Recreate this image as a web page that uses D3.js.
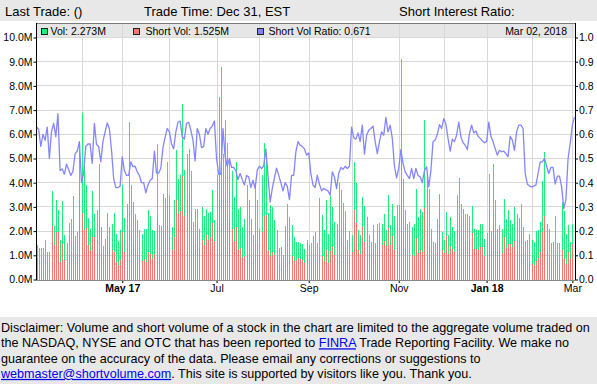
<!DOCTYPE html>
<html><head><meta charset="utf-8">
<script src="https://cdn.jsdelivr.net/npm/d3@7"></script>
<style>
body{margin:0;width:597px;height:384px;overflow:hidden;background:#fff;}
svg{position:absolute;left:0;top:0;font-family:"Liberation Sans",Arial,sans-serif;}
</style></head>
<body>
<svg id="c" width="597" height="384"></svg>
<script>
// ---- data ----
const volM = [
1.42,1.32,1.32,1.32,1.63,1.15,1.15,3.65,2.2,3.3,
2.87,1.63,3.24,1.83,1.52,2.32,2.5,3.44,1.8,1.95,
5.7,6.9,4.68,3.9,2.56,2.1,3.65,2.7,2.87,4.77,
2.15,1.39,1.69,2.73,2.18,2.29,2.73,1.9,1.58,2.04,
3.9,2.55,3.14,6.5,3.9,3.2,2.69,2.45,2.04,1.9,
2.07,2.07,2.87,2.62,2.04,2.01,5.6,2.25,2.2,3.55,
3.35,4.86,3.49,2.18,3.28,5.37,4.17,4.31,7.27,4.52,
5.17,5.41,4.48,2.38,2.93,2.9,2.1,3.0,2.62,2.93,
2.73,2.8,3.69,2.45,4.3,7.55,8.79,5.2,6.58,5.62,
4.97,4.5,3.4,4.85,2.93,3.0,2.18,2.52,3.9,3.28,
2.52,1.83,3.9,3.28,2.1,4.3,5.62,4.9,2.73,3.08,
3.0,2.45,2.04,1.32,1.35,1.0,2.21,3.14,2.6,2.25,
1.74,1.56,1.53,1.52,1.46,1.24,1.63,1.42,1.52,1.79,
1.97,1.52,3.37,2.66,2.04,3.28,1.9,3.44,3.0,2.38,
2.29,4.0,3.69,3.17,2.84,1.63,2.01,1.83,4.86,4.0,
2.04,1.83,3.39,3.03,2.59,1.83,1.56,2.25,1.52,2.29,
2.34,2.31,2.7,2.04,3.49,2.25,3.11,2.62,3.07,3.07,
9.1,4.17,2.87,2.29,2.38,2.18,2.31,3.72,2.59,2.9,
2.8,6.61,4.24,3.76,2.1,1.56,1.52,2.48,3.55,1.97,
1.63,2.78,1.83,2.59,2.18,2.01,3.49,4.21,3.11,2.93,
2.7,2.7,2.62,3.03,2.07,2.04,2.04,2.31,2.31,1.69,
1.93,4.38,2.01,4.77,3.28,2.1,2.25,2.1,3.31,2.52,
2.89,2.45,2.31,3.0,2.7,2.56,3.11,2.18,1.6,1.63,
1.9,1.65,1.56,2.01,2.04,2.38,4.08,5.28,2.31,2.07,
1.52,1.56,2.62,1.49,1.52,3.21,2.84,1.9,2.25,1.54,
2.31,2.273
];
const shortRatio = [
0.63,0.62,0.55,0.60,0.575,0.63,0.50,0.61,0.645,0.59,
0.685,0.45,0.457,0.435,0.477,0.455,0.43,0.447,0.52,0.53,
0.57,0.40,0.44,0.55,0.56,0.56,0.48,0.645,0.558,0.55,
0.486,0.57,0.61,0.647,0.624,0.534,0.417,0.38,0.38,0.385,
0.507,0.45,0.43,0.43,0.486,0.466,0.468,0.445,0.43,0.40,
0.40,0.358,0.39,0.41,0.417,0.53,0.44,0.44,0.46,0.545,
0.587,0.624,0.61,0.56,0.54,0.61,0.65,0.655,0.59,0.58,
0.645,0.65,0.617,0.576,0.49,0.624,0.60,0.545,0.55,0.624,
0.60,0.624,0.634,0.655,0.50,0.435,0.435,0.624,0.51,0.468,
0.50,0.463,0.463,0.45,0.413,0.438,0.413,0.39,0.43,0.424,
0.38,0.41,0.376,0.452,0.468,0.458,0.47,0.54,0.43,0.32,
0.376,0.42,0.46,0.43,0.40,0.366,0.40,0.385,0.33,0.43,
0.43,0.527,0.57,0.555,0.55,0.54,0.514,0.523,0.438,0.39,
0.38,0.43,0.394,0.366,0.376,0.37,0.366,0.348,0.445,0.424,
0.376,0.438,0.463,0.455,0.468,0.459,0.468,0.63,0.587,0.58,
0.606,0.57,0.638,0.518,0.596,0.617,0.624,0.634,0.57,0.52,
0.57,0.61,0.596,0.67,0.61,0.638,0.583,0.468,0.42,0.459,
0.537,0.48,0.445,0.43,0.417,0.459,0.417,0.459,0.43,0.424,
0.40,0.45,0.466,0.383,0.45,0.57,0.576,0.60,0.64,0.624,
0.665,0.642,0.583,0.53,0.58,0.57,0.596,0.65,0.59,0.565,
0.555,0.537,0.603,0.638,0.606,0.614,0.592,0.583,0.573,0.565,
0.57,0.65,0.592,0.57,0.54,0.514,0.534,0.528,0.53,0.52,
0.507,0.592,0.576,0.534,0.61,0.638,0.638,0.624,0.438,0.394,
0.386,0.383,0.386,0.39,0.438,0.486,0.486,0.50,0.468,0.438,
0.463,0.463,0.394,0.427,0.427,0.383,0.293,0.33,0.50,0.562,
0.638,0.671
];
const firstDay = "2017-03-03", lastDay = "2018-03-02";
const holidays = ["2017-04-14","2017-05-29","2017-07-04","2017-09-04","2017-11-23","2017-12-25","2018-01-01","2018-01-15","2018-02-19"];
const gridMonths = ["2017-04","2017-05","2017-06","2017-07","2017-08","2017-09","2017-10","2017-11","2017-12","2018-01","2018-02","2018-03"];
const labelMonths = ["2017-05","2017-07","2017-09","2017-11","2018-01","2018-03"];
const monthLabels = ["May 17","Jul","Sep","Nov","Jan 18","Mar"];
const boldLabels = ["May 17","Jan 18"];
const volTicks = [0,1,2,3,4,5,6,7,8,9,10];
const ratioTicks = [0,0.1,0.2,0.3,0.4,0.5,0.6,0.7,0.8,0.9,1.0];
const headerTexts = ["Last Trade: ()","Trade Time: Dec 31, EST","Short Interest Ratio:"];

// ---- trading calendar ----
const fmt = d3.timeFormat("%Y-%m-%d"), fmtM = d3.timeFormat("%Y-%m");
const parse = d3.timeParse("%Y-%m-%d");
const dates = d3.timeDays(parse(firstDay), d3.timeDay.offset(parse(lastDay),1))
  .filter(d => d.getDay()>0 && d.getDay()<6 && !holidays.includes(fmt(d)));
const n = volM.length;
const shortM = volM.map((v,i)=>v*shortRatio[i]);
const firstIdx = m => dates.findIndex(d => fmtM(d)===m);

// ---- layout ----
const L=36, R=574.5, T=23, B=279.5, LEG=37.5;
const svg = d3.select("#c");
const x = d3.scaleLinear().domain([0,n-1]).range([L+0.5,R]);
const y = d3.scaleLinear().domain([0,10]).range([B,LEG]);
const yr = d3.scaleLinear().domain([0,1]).range([B,LEG]);

// header
svg.append("rect").attr("x",0).attr("y",0).attr("width",597).attr("height",21).attr("fill","#e8e8e8");
const hx=[5,144,399];
headerTexts.forEach((t,i)=>svg.append("text").attr("x",hx[i]).attr("y",15.5).attr("font-size",13).attr("fill","#000").text(t));

// legend band
svg.append("rect").attr("x",L).attr("y",T).attr("width",R-L).attr("height",LEG-T).attr("fill","#e6e6e6");

// grid
const g = svg.append("g").attr("shape-rendering","crispEdges");
g.selectAll("line.h").data(volTicks.slice(1)).join("line")
  .attr("x1",L).attr("x2",R).attr("y1",d=>y(d)).attr("y2",d=>y(d)).attr("stroke","#d8d8d8");
g.selectAll("line.v").data(gridMonths.map(firstIdx)).join("line")
  .attr("x1",d=>Math.round(x(d))+0.5).attr("x2",d=>Math.round(x(d))+0.5).attr("y1",T).attr("y2",B).attr("stroke","#d8d8d8");

// bars
const bars = svg.append("g").attr("shape-rendering","crispEdges");
bars.selectAll("rect.v").data(volM).join("rect")
  .attr("x",(d,i)=>Math.round(x(i))-0.5).attr("width",1)
  .attr("y",d=>y(d)).attr("height",d=>B-y(d)).attr("fill","#18f27a");
bars.selectAll("rect.s").data(shortM).join("rect")
  .attr("x",(d,i)=>Math.round(x(i))-0.5).attr("width",1)
  .attr("y",d=>y(d)).attr("height",d=>B-y(d)).attr("fill","#ff7272");

// ratio line
svg.append("path").datum(shortRatio)
  .attr("d",d3.line().x((d,i)=>x(i)).y(d=>yr(d)))
  .attr("fill","none").attr("stroke","#8585ff").attr("stroke-width",1.3).attr("stroke-linejoin","round");

// top border
svg.append("line").attr("x1",L).attr("x2",R+0.5).attr("y1",T+0.5).attr("y2",T+0.5).attr("stroke","#7a7a7a").attr("shape-rendering","crispEdges");

// legend
const last=n-1;
const legend=[
 {c:"#18f27a",t:"Vol: "+volM[last].toFixed(3)+"M",sx:41,tx:50.5},
 {c:"#ff7272",t:"Short Vol: "+shortM[last].toFixed(3)+"M",sx:133.5,tx:145.5},
 {c:"#8080ff",t:"Short Vol Ratio: "+shortRatio[last].toFixed(3),sx:257.5,tx:268.5}
];
legend.forEach(l=>{
  svg.append("rect").attr("x",l.sx).attr("y",28.5).attr("width",6).attr("height",6).attr("fill",l.c).attr("stroke","#222").attr("stroke-width",1).attr("shape-rendering","crispEdges");
  svg.append("text").attr("x",l.tx).attr("y",35.3).attr("font-size",10.5).attr("fill","#000").text(l.t);
});
svg.append("text").attr("x",567).attr("y",35.3).attr("text-anchor","end").attr("font-size",10.5).text(d3.timeFormat("%b %d, %Y")(dates[last]||parse(lastDay)));

// axes
const axL = svg.append("g").attr("transform",`translate(${L+0.5},0)`)
  .call(d3.axisLeft(y).tickValues(volTicks).tickFormat(d=>d.toFixed(1)+"M").tickSize(3).tickPadding(1).tickSizeOuter(0));
const axR = svg.append("g").attr("transform",`translate(${R+0.5},0)`)
  .call(d3.axisRight(yr).tickValues(ratioTicks).tickFormat(d3.format(".1f")).tickSize(3).tickPadding(1).tickSizeOuter(0));
[axL,axR].forEach(a=>{
  a.select(".domain").remove();
  a.selectAll("text").attr("font-size",10.5).attr("font-family","Liberation Sans, Arial, sans-serif").attr("fill","#000");
  a.selectAll("line").attr("stroke","#000");
});
svg.append("line").attr("x1",L+0.5).attr("x2",L+0.5).attr("y1",T).attr("y2",B+0.5).attr("stroke","#000").attr("shape-rendering","crispEdges");
svg.append("line").attr("x1",R+0.5).attr("x2",R+0.5).attr("y1",T).attr("y2",B+0.5).attr("stroke","#000").attr("shape-rendering","crispEdges");

const lblIdx = labelMonths.map(firstIdx);
const axB = svg.append("g").attr("transform",`translate(0,${B+0.5})`)
  .call(d3.axisBottom(x).tickValues(lblIdx).tickFormat((d,i)=>monthLabels[i]).tickSize(3).tickPadding(2).tickSizeOuter(0));
axB.select(".domain").remove();
axB.selectAll("line").attr("stroke","#000");
axB.selectAll("text").attr("font-size",10.5).attr("font-family","Liberation Sans, Arial, sans-serif").attr("fill","#000")
  .attr("font-weight",(d,i)=>boldLabels.includes(monthLabels[i])?"bold":"normal");
svg.append("line").attr("x1",L).attr("x2",R+1).attr("y1",B+0.5).attr("y2",B+0.5).attr("stroke","#888").attr("shape-rendering","crispEdges");

// disclaimer
svg.append("rect").attr("x",0).attr("y",317).attr("width",597).attr("height",67).attr("fill","#e8e8e8");
const lines=[
 [["Disclaimer: Volume and short volume of a stock in the chart are limited to the aggregate volume traded on",0]],
 [["the NASDAQ, NYSE and OTC that has been reported to ",0],["FINRA",1],[" Trade Reporting Facility. We make no",0]],
 [["guarantee on the accuracy of the data. Please email any corrections or suggestions to",0]],
 [["webmaster@shortvolume.com",1],[". This site is supported by visitors like you. Thank you.",0]]
];
lines.forEach((ln,i)=>{
  const t=svg.append("text").attr("x",1).attr("y",332+i*15.3).attr("font-size",12.6).attr("fill","#000");
  ln.forEach(([s,link])=>{
    const ts=t.append("tspan").text(s);
    if(link) ts.attr("fill","#0000ee").attr("text-decoration","underline");
  });
});
</script>
</body></html>
